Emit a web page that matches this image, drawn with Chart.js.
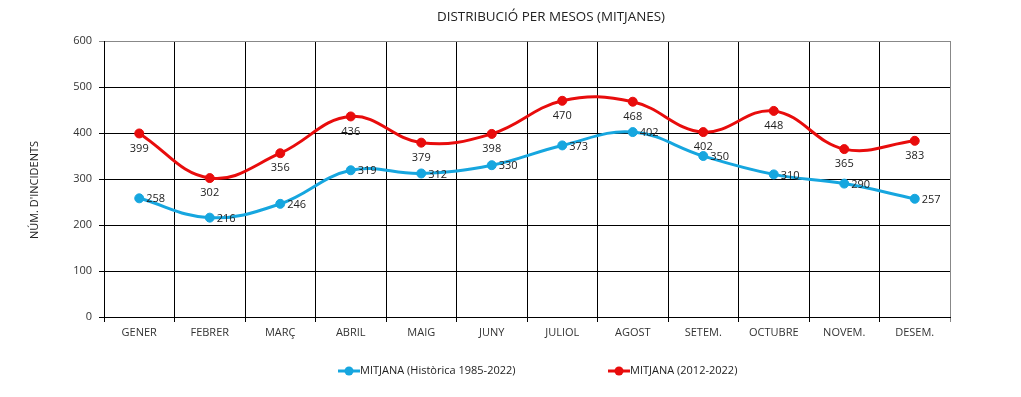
<!DOCTYPE html>
<html lang="ca">
<head>
<meta charset="UTF-8">
<title>Distribució per mesos (mitjanes)</title>
<script src="https://cdn.jsdelivr.net/npm/chart.js"></script>
<style>
  html, body { margin: 0; padding: 0; background: #fff; }
</style>
</head>
<body>
<canvas id="grafic" width="1021" height="397"></canvas>
<script>
  // Dades llegides del gràfic
  const mesos = ['GENER', 'FEBRER', 'MARÇ', 'ABRIL', 'MAIG', 'JUNY', 'JULIOL', 'AGOST', 'SETEM.', 'OCTUBRE', 'NOVEM.', 'DESEM.'];
  const historica = [258, 216, 246, 319, 312, 330, 373, 402, 350, 310, 290, 257];
  const recent = [399, 302, 356, 436, 379, 398, 470, 468, 402, 448, 365, 383];
  const nomHistorica = 'MITJANA (Històrica 1985-2022)';
  const nomRecent = 'MITJANA (2012-2022)';
  const titol = 'DISTRIBUCIÓ PER MESOS (MITJANES)';
  const titolY = "NÚM. D'INCIDENTS";

  const blau = '#16a6df';
  const vermell = '#e80c0c';
  const font = '"Open Sans", "Noto Sans", sans-serif';

  // Etiquetes de valors, títol i llegenda
  const textos = {
    id: 'textos',
    afterDatasetsDraw(chart) {
      const ctx = chart.ctx;
      ctx.save();
      ctx.font = '11px ' + font;
      ctx.fillStyle = '#222';
      ctx.textBaseline = 'middle';
      // blau: a la dreta del punt
      chart.getDatasetMeta(0).data.forEach((p, i) => {
        ctx.textAlign = 'left';
        ctx.fillText(historica[i], p.x + 7, p.y + 1);
      });
      // vermell: a sota del punt
      chart.getDatasetMeta(1).data.forEach((p, i) => {
        ctx.textAlign = 'center';
        ctx.fillText(recent[i], p.x, p.y + 15);
      });
      ctx.restore();
    },
    afterDraw(chart) {
      const ctx = chart.ctx;
      ctx.save();
      ctx.fillStyle = '#222';
      ctx.textBaseline = 'middle';
      ctx.textAlign = 'center';
      ctx.font = '13.4px ' + font;
      ctx.fillText(titol, 551, 17);

      ctx.font = '11px ' + font;
      ctx.save();
      ctx.translate(35, 190);
      ctx.rotate(-Math.PI / 2);
      ctx.fillText(titolY, 0, 0);
      ctx.restore();

      // llegenda
      const item = (x, color, text) => {
        ctx.strokeStyle = color;
        ctx.lineWidth = 3;
        ctx.beginPath();
        ctx.moveTo(x, 371);
        ctx.lineTo(x + 22, 371);
        ctx.stroke();
        ctx.fillStyle = color;
        ctx.beginPath();
        ctx.arc(x + 11, 371, 4.5, 0, Math.PI * 2);
        ctx.fill();
        ctx.fillStyle = '#222';
        ctx.textAlign = 'left';
        ctx.fillText(text, x + 22, 371);
      };
      item(338, blau, nomHistorica);
      item(608, vermell, nomRecent);
      ctx.restore();
    }
  };

  new Chart(document.getElementById('grafic'), {
    type: 'line',
    data: {
      labels: mesos,
      datasets: [
        {
          label: nomHistorica,
          data: historica,
          borderColor: blau,
          backgroundColor: blau,
          borderWidth: 3,
          tension: 0.4,
          pointStyle: 'circle',
          pointRadius: 4.5,
          pointBorderWidth: 1
        },
        {
          label: nomRecent,
          data: recent,
          borderColor: vermell,
          backgroundColor: vermell,
          borderWidth: 3,
          tension: 0.4,
          pointStyle: 'circle',
          pointRadius: 4.5,
          pointBorderWidth: 1
        }
      ]
    },
    options: {
      responsive: false,
      animation: false,
      layout: { padding: { top: 41, right: 71, bottom: 50, left: 0 } },
      plugins: {
        legend: { display: false },
        title: { display: false },
        tooltip: { enabled: false }
      },
      scales: {
        x: {
          offset: true,
          afterFit: s => { s.height = 30; },
          grid: {
            offset: true,
            tickLength: 5,
            color: c => (c.tick ? '#000' : '#888')
          },
          border: { display: true, color: '#000' },
          ticks: { color: '#333', padding: 4, font: { family: font, size: 11 } }
        },
        y: {
          min: 0,
          max: 600,
          afterFit: s => { s.width = 104; },
          grid: {
            tickLength: 5,
            color: c => (c.tick && c.tick.value === 600 ? '#888' : '#000')
          },
          border: { display: true, color: '#000' },
          ticks: { stepSize: 100, color: '#333', padding: 7, font: { family: font, size: 11 } }
        }
      }
    },
    plugins: [textos]
  });
</script>
</body>
</html>
